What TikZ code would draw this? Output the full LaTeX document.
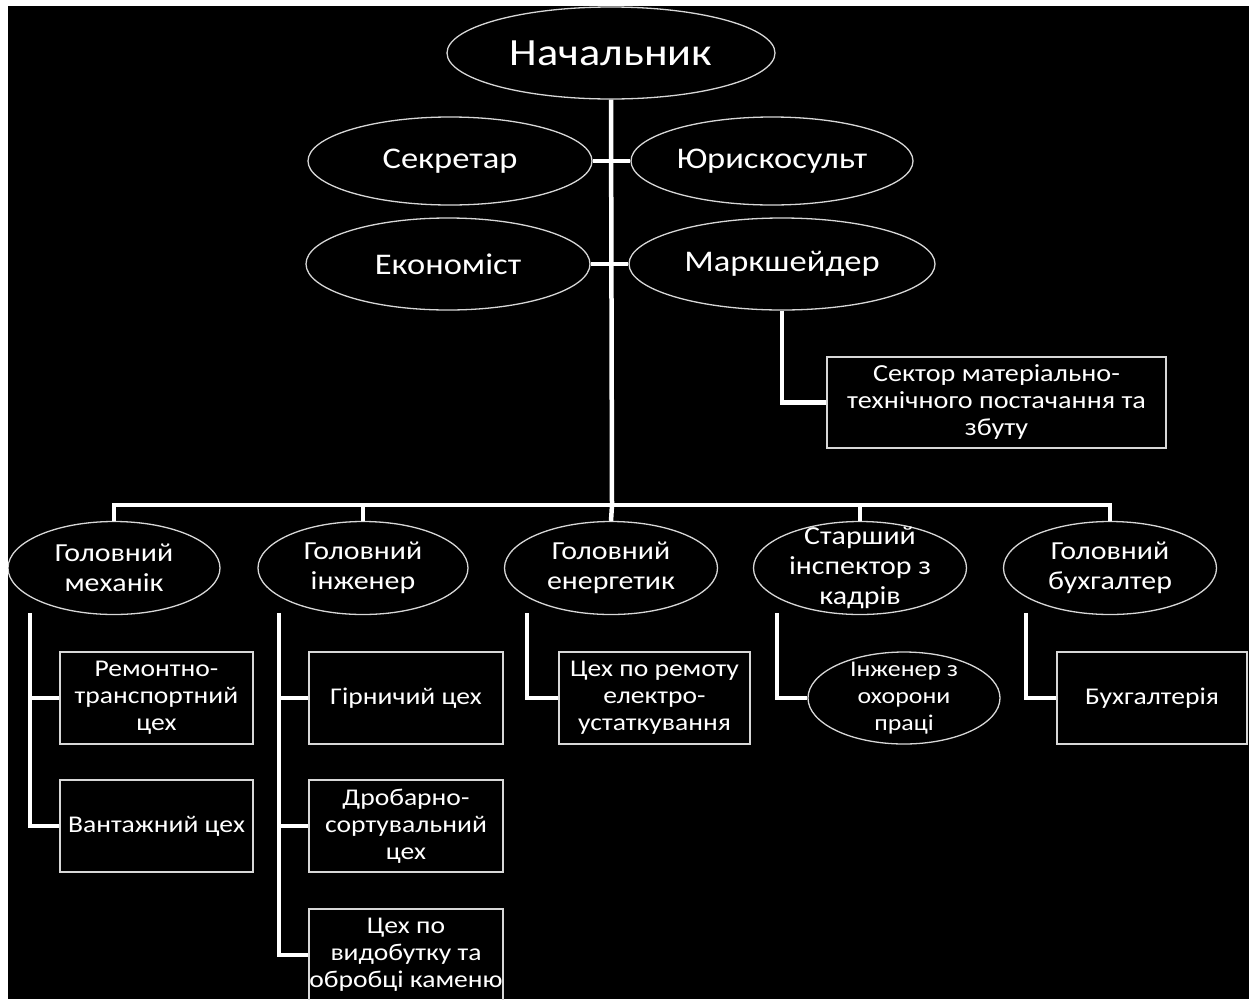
\documentclass[tikz,border=0pt]{standalone}
\usepackage{fontspec}
\setmainfont{Carlito}[FakeStretch=1.15]
\usetikzlibrary{shapes.geometric}
\definecolor{edge}{RGB}{215,215,215}
\tikzset{
  x=1pt,y=-1pt,
  conn/.style={draw=white,line width=4.5pt},
  ell/.style={ellipse,draw=edge,line width=1.3pt,inner sep=0pt},
  box/.style={rectangle,draw=edge,line width=1.3pt,inner sep=0pt,text=white,align=center},
  lab/.style={text=white,align=center},
  fA/.style={font=\fontsize{38.5}{42}\selectfont},
  fB/.style={font=\fontsize{30}{34}\selectfont},
  fC/.style={font=\fontsize{26}{30}\selectfont},
  fD/.style={font=\fontsize{24}{27}\selectfont},
}
\begin{document}
\begin{tikzpicture}
\useasboundingbox (0,0) rectangle (1249,999);
\fill[white] (0,0) rectangle (1249,999);
\fill[black] (8,6) rectangle (1249,999);
\begin{scope}
\clip (8,6) rectangle (1249,999);
% top level
\node[ell,minimum width=328pt,minimum height=92pt,label={[lab,fA]center:Начальник}] (nach) at (611,53) {};
\node[ell,minimum width=284pt,minimum height=88pt,label={[lab,fB]center:Секретар}] (sek) at (450,161) {};
\node[ell,minimum width=282pt,minimum height=88pt,label={[lab,fB]center:Юрискосульт}] (yur) at (772,161) {};
\node[ell,minimum width=284pt,minimum height=92pt,label={[lab,fB]center:Економіст}] (eko) at (448,264) {};
\node[ell,minimum width=306pt,minimum height=92pt,label={[lab,fB]center:Маркшейдер}] (mark) at (782,264) {};
\node[box,minimum width=339pt,minimum height=91pt,font=\fontsize{24.5}{27}\selectfont] (sekt) at (996.5,402.5) {Сектор матеріально-\\технічного постачання та\\збуту};
% level 2
\node[ell,minimum width=212pt,minimum height=93pt,label={[lab,fC]center:Головний\\механік}] (mech) at (114,568) {};
\node[ell,minimum width=210pt,minimum height=93pt,label={[lab,fC]center:Головний\\інженер}] (ing) at (363,568) {};
\node[ell,minimum width=213pt,minimum height=93pt,label={[lab,fC]center:Головний\\енергетик}] (energ) at (611,568) {};
\node[ell,minimum width=213pt,minimum height=93pt,label={[lab,fC]center:Старший\\інспектор з\\кадрів}] (kadr) at (860,568) {};
\node[ell,minimum width=213pt,minimum height=93pt,label={[lab,fC]center:Головний\\бухгалтер}] (buh) at (1110,568) {};
% level 3
\node[box,fD,minimum width=193pt,minimum height=92pt] (rem) at (156.5,698) {Ремонтно-\\транспортний\\цех};
\node[box,fD,minimum width=193pt,minimum height=92pt] (van) at (156.5,826) {Вантажний цех};
\node[box,fD,minimum width=194pt,minimum height=92pt] (gir) at (406,698) {Гірничий цех};
\node[box,fD,minimum width=194pt,minimum height=92pt] (drob) at (406,826) {Дробарно-\\сортувальний\\цех};
\node[box,fD,minimum width=194pt,minimum height=92pt] (vid) at (406,955) {Цех по\\видобутку та\\обробці каменю};
\node[box,fD,minimum width=191pt,minimum height=92pt] (elec) at (654.5,698) {Цех по ремоту\\електро-\\устаткування};
\node[ell,minimum width=192pt,minimum height=92pt,label={[lab,font=\fontsize{22.5}{27}\selectfont]center:Інженер з\\охорони\\праці}] (ohor) at (904,698) {};
\node[box,fD,minimum width=190pt,minimum height=92pt] (buhg) at (1152,698) {Бухгалтерія};
% connectors
\coordinate (bus) at (612,505);
\draw[conn] (nach.south) -- (bus);
\draw[conn] (sek.east) -- (yur.west);
\draw[conn] (eko.east) -- (mark.west);
\draw[conn] (mark.south) |- (sekt.west);
\draw[conn] (mech.north) -- (mech.north |- bus) -- (buh.north |- bus) -- (buh.north);
\draw[conn] (ing.north) -- (ing.north |- bus);
\draw[conn] (energ.north) -- (bus);
\draw[conn] (kadr.north) -- (kadr.north |- bus);
\coordinate (m0) at (30,613);
\draw[conn] (m0) |- (van.west);
\draw[conn] (m0 |- rem.west) -- (rem.west);
\coordinate (i0) at (279,613);
\draw[conn] (i0) |- (vid.west);
\draw[conn] (i0 |- gir.west) -- (gir.west);
\draw[conn] (i0 |- drob.west) -- (drob.west);
\coordinate (e0) at (527,613);
\draw[conn] (e0) |- (elec.west);
\coordinate (k0) at (777,613);
\draw[conn] (k0) |- (ohor.west);
\coordinate (b0) at (1026,613);
\draw[conn] (b0) |- (buhg.west);
\end{scope}
\end{tikzpicture}
\end{document}
